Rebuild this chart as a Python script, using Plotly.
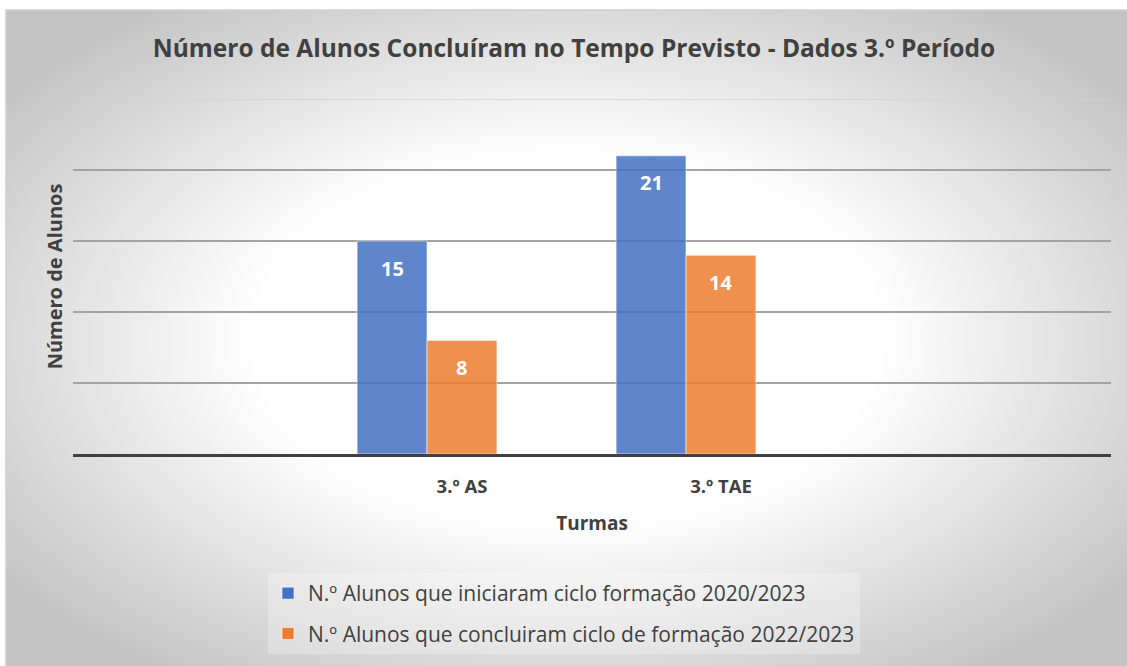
import base64
import plotly.graph_objects as go

categories = ["3.º AS", "3.º TAE"]
series_names = ["N.º Alunos que iniciaram ciclo formação 2020/2023",
                "N.º Alunos que concluiram ciclo de formação 2022/2023"]
iniciaram = [15, 21]
concluiram = [8, 14]
colors = ["#4472C4", "#ED7D31"]
y_max = 25

# plot area in pixels
W, H = 1127, 666
L, R, T, B = 73, 1111, 99, 454

def px_x(px):
    return (px - L) / (R - L)

def px_y(py):
    return (B - py) / (B - T)

svg = f'''<svg xmlns="http://www.w3.org/2000/svg" width="1121" height="656" viewBox="0 0 1121 656" preserveAspectRatio="none">
<defs><radialGradient id="g" cx="0.5" cy="0.5" r="0.62" fx="0.5" fy="0.5">
<stop offset="0" stop-color="#ffffff"/>
<stop offset="0.45" stop-color="#ffffff"/>
<stop offset="1" stop-color="#c4c4c4"/>
</radialGradient></defs>
<rect x="0" y="0" width="1121" height="656" fill="url(#g)"/>
</svg>'''
uri = "data:image/svg+xml;base64," + base64.b64encode(svg.encode()).decode()

fig = go.Figure()
for name, vals, col, grp in [(series_names[0], iniciaram, colors[0], "a"),
                             (series_names[1], concluiram, colors[1], "b")]:
    fig.add_trace(go.Bar(
        x=categories, y=vals, name=name, legendgroup=grp,
        marker=dict(color=col, opacity=0.85,
                    line=dict(color="rgba(255,255,255,0.6)", width=1)),
        hoverinfo="skip",
    ))

# data labels inside bar ends
half = 0.27 / 2
for i, cat in enumerate(categories):
    for vals, off in [(iniciaram, -half), (concluiram, half)]:
        fig.add_annotation(x=i + off, y=vals[i], text=f"<b>{vals[i]}</b>",
                           showarrow=False, yshift=-27,
                           font=dict(family="Open Sans", size=20, color="white"))

fig.add_layout_image(dict(source=uri, xref="paper", yref="paper",
                          x=px_x(6), y=px_y(10),
                          sizex=px_x(W + 2) - px_x(6), sizey=px_y(10) - px_y(H + 2),
                          xanchor="left", yanchor="top", sizing="stretch",
                          layer="below"))
fig.add_shape(type="rect", xref="paper", yref="paper",
              x0=px_x(6), y0=px_y(10), x1=px_x(W + 5), y1=px_y(H + 5),
              line=dict(color="#d0d0d0", width=1.5), layer="below")
# top gridline (lighter)
fig.add_shape(type="line", xref="paper", yref="y", x0=0, x1=1, y0=y_max, y1=y_max,
              line=dict(color="#d2d2d2", width=1.5), layer="below")

fig.update_layout(
    width=W, height=H,
    margin=dict(l=L, r=W - R, t=T, b=H - B, autoexpand=False),
    paper_bgcolor="white",
    plot_bgcolor="rgba(0,0,0,0)",
    barmode="group", bargap=0.46, bargroupgap=0,
    title=dict(text="<b>Número de Alunos Concluíram no Tempo Previsto - Dados 3.º Período</b>",
               x=574 / W, xref="container", xanchor="center",
               y=1 - 48 / H, yanchor="middle",
               font=dict(family="Open Sans", size=24.5, color="#404040")),
    font=dict(family="Open Sans", color="#404040"),
    xaxis=dict(range=[(L - 427) / 259, (R - 427) / 259],
               showline=True, linecolor="#404040", linewidth=3,
               showgrid=False, ticks="", automargin=False,
               ticklabelstandoff=14,
               tickfont=dict(family="Open Sans", size=18.5, color="#404040"),
               tickvals=[i + half for i in range(len(categories))],
               ticktext=[f"<b>{c}</b>" for c in categories],
               title=dict(text="<b>Turmas</b>", standoff=20,
                          font=dict(family="Open Sans", size=19, color="#404040"))),
    yaxis=dict(range=[0, y_max], dtick=5, showticklabels=False, ticks="",
               automargin=False,
               showgrid=True, gridcolor="#a3a3a3", gridwidth=1.5, zeroline=False,
               title=dict(text="<b>Número de Alunos</b>", standoff=4,
                          font=dict(family="Open Sans", size=20, color="#404040"))),
    legend=dict(x=px_x(268), y=px_y(573), xanchor="left", yanchor="top",
                orientation="v", tracegroupgap=10,
                bgcolor="rgba(255,255,255,0.25)",
                font=dict(family="Open Sans", size=21, color="#404040")),
    showlegend=True,
)

fig.write_html("out.html", config={"displayModeBar": False},
               post_script="document.body.style.margin='0';")
